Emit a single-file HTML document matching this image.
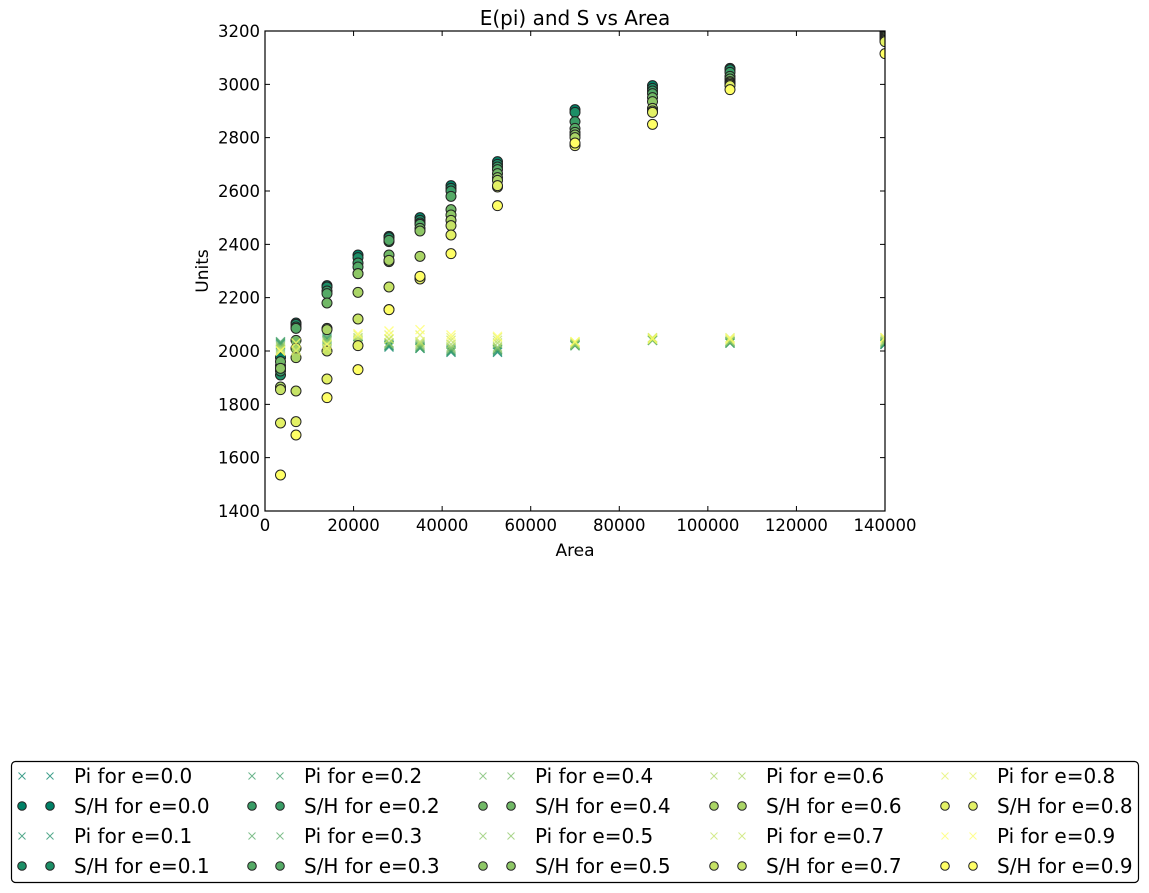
<!DOCTYPE html>
<html><head><meta charset="utf-8"><style>
html,body{margin:0;padding:0;background:#fff}
svg{display:block;font-family:"DejaVu Sans","Liberation Sans",sans-serif}
</style></head><body>
<svg id="chart" width="1149" height="893" viewBox="0 0 1149 893">
<defs><clipPath id="pc"><rect x="265" y="31" width="620" height="480"/></clipPath></defs>
<rect width="1149" height="893" fill="#fff"/>
<text x="575" y="25" text-anchor="middle" font-size="20">E(pi) and S vs Area</text>
<g id="marks" clip-path="url(#pc)"></g>
<rect x="265" y="31" width="620" height="480" fill="none" stroke="#000" stroke-width="1.2"/>
<g id="axes"></g>
<text x="575" y="556" text-anchor="middle" font-size="17">Area</text>
<text transform="translate(208,271) rotate(-90)" text-anchor="middle" font-size="17">Units</text>
<rect x="11.5" y="761.5" width="1127" height="121" rx="4" fill="#fff" stroke="#000" stroke-width="1.2"/>
<g id="legend"></g>
</svg>
<script>
const areas=[3500,7000,14000,21000,28000,35000,42000,52500,70000,87500,105000,140000];
const eLevels=[0.0,0.1,0.2,0.3,0.4,0.5,0.6,0.7,0.8,0.9];
const xTicks=[0,20000,40000,60000,80000,100000,120000,140000];
const yTicks=[1400,1600,1800,2000,2200,2400,2600,2800,3000,3200];
const pi0=[2030,2020,2040,2025,2015,2010,1995,1995,2020,2040,2030,2025];
const pi1=[2025,2025,2045,2025,2020,2015,2000,2000,2025,2040,2030,2025];
const pi2=[2035,2020,2050,2025,2020,2010,2000,2005,2020,2045,2035,2030];
const pi3=[2030,2030,2055,2030,2025,2015,2005,2005,2025,2040,2030,2030];
const pi4=[2020,2025,2035,2035,2030,2020,2010,2010,2020,2045,2035,2035];
const pi5=[2015,2030,2040,2040,2030,2025,2015,2015,2025,2040,2035,2035];
const pi6=[2010,2015,2030,2050,2045,2030,2025,2030,2030,2045,2040,2040];
const pi7=[2005,2005,2020,2045,2045,2035,2040,2040,2030,2050,2045,2045];
const pi8=[2000,2000,2010,2060,2060,2060,2050,2050,2035,2050,2050,2050];
const pi9=[2000,2030,2025,2065,2075,2080,2060,2055,2035,2045,2045,2050];
const sh0=[1975,2105,2245,2360,2430,2500,2620,2710,2905,2995,3060,3200];
const sh1=[1910,2100,2240,2350,2425,2490,2610,2700,2895,2985,3055,3195];
const sh2=[1925,2090,2225,2330,2410,2480,2600,2690,2860,2975,3045,3190];
const sh3=[1945,2085,2215,2315,2415,2475,2580,2680,2835,2965,3030,3185];
const sh4=[1960,2040,2180,2290,2360,2460,2530,2665,2820,2950,3020,3180];
const sh5=[1935,2010,2085,2290,2335,2450,2510,2650,2810,2935,3010,3175];
const sh6=[1865,1975,2080,2220,2340,2355,2490,2640,2800,2910,3005,3170];
const sh7=[1855,1850,2000,2120,2240,2275,2470,2615,2775,2900,3000,3165];
const sh8=[1730,1735,1895,2020,2155,2270,2435,2620,2770,2895,2995,3160];
const sh9=[1535,1685,1825,1930,2155,2280,2365,2545,2780,2850,2980,3115];
const piSeries=[pi0,pi1,pi2,pi3,pi4,pi5,pi6,pi7,pi8,pi9];
const shSeries=[sh0,sh1,sh2,sh3,sh4,sh5,sh6,sh7,sh8,sh9];

const NS='http://www.w3.org/2000/svg';
const X0=265,X1=885,Y0=511,Y1=31;
function xs(v){return X0+(v-0)/(140000-0)*(X1-X0);}
function ys(v){return Y0-(v-1400)/(3200-1400)*(Y0-Y1);}
function col(i){const t=i/9;return 'rgb('+Math.round(255*t)+','+Math.round(128+127*t)+',102)';}
function mk(tag,attrs,parent){const el=document.createElementNS(NS,tag);for(const k in attrs)el.setAttribute(k,attrs[k]);parent.appendChild(el);return el;}
function cross(g,x,y,s,c,w,op){
  return mk('path',{d:`M${x-s},${y-s}L${x+s},${y+s}M${x-s},${y+s}L${x+s},${y-s}`,stroke:c,'stroke-width':w,fill:'none',opacity:op},g);
}
const marks=document.getElementById('marks');
eLevels.forEach((e,i)=>{
  const gp=mk('g',{},marks);
  
  
  piSeries[i].forEach((v,j)=>{
    const p=cross(gp,xs(areas[j]),ys(v),4.5,col(i),1.3,0.75);
    
    
  });
  const gs=mk('g',{},marks);
  
  
  shSeries[i].forEach((v,j)=>{
    const c=mk('circle',{cx:xs(areas[j]),cy:ys(v),r:5,fill:col(i),stroke:'#222','stroke-width':1},gs);
    
    
  });
});
const axes=document.getElementById('axes');
xTicks.forEach(t=>{
  const x=xs(t);
  mk('path',{d:`M${x},${Y0}v-5M${x},${Y1}v5`,stroke:'#000','stroke-width':1},axes);
  const tx=mk('text',{x:x,y:Y0+20,'text-anchor':'middle','font-size':16.5},axes);
  tx.textContent=t;
  
  
});
yTicks.forEach(t=>{
  const y=ys(t);
  mk('path',{d:`M${X0},${y}h5M${X1},${y}h-5`,stroke:'#000','stroke-width':1},axes);
  const tx=mk('text',{x:X0-5,y:y+6,'text-anchor':'end','font-size':16.5},axes);
  tx.textContent=t;
  
  
});
const leg=document.getElementById('legend');
const colX=[0,230,461,692,923];
eLevels.forEach((e,i)=>{
  const c=Math.floor(i/2), r=(i%2)*2;
  [[r,'pi'],[r+1,'sh']].forEach(([row,kind])=>{
    const y=776+row*30, bx=colX[c];
    const g=mk('g',{},leg);
    
    
    [22,50].forEach(dx=>{
      if(kind==='pi') cross(g,bx+dx,y,3.5,col(i),1,0.75);
      else mk('circle',{cx:bx+dx,cy:y,r:4.3,fill:col(i),stroke:'#222','stroke-width':1},g);
    });
    const t=mk('text',{x:bx+74,y:y+7,'font-size':20},g);
    t.textContent=(kind==='pi'?'Pi for e=':'S/H for e=')+e.toFixed(1);
  });
});
</script>
</body></html>
